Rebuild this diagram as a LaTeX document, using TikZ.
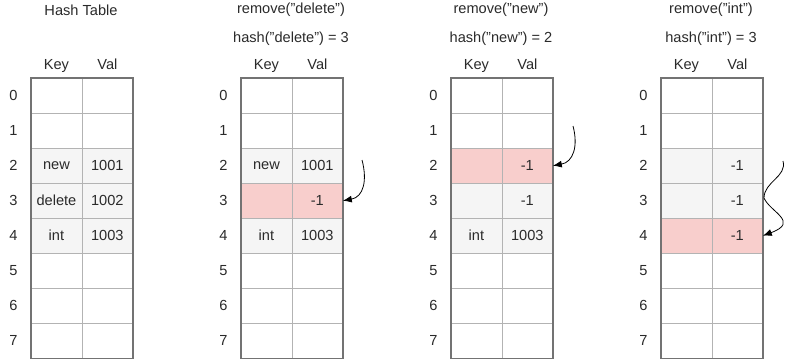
\documentclass[tikz,border=0pt]{standalone}
\usepackage{fontspec}
\setmainfont{Liberation Sans}
\usetikzlibrary{positioning, arrows.meta}
\definecolor{cellgray}{HTML}{F5F5F5}
\definecolor{cellred}{HTML}{F8CECC}
\definecolor{gridline}{HTML}{B3B3B3}
\definecolor{frameline}{HTML}{737373}
\definecolor{textdark}{HTML}{2A2A2A}

\begin{document}
\begin{tikzpicture}[x=1pt, y=-1pt, font=\fontsize{14.6}{17}\selectfont,
  >={Latex[length=9pt, width=7pt]}, every node/.style={text=textdark},
  cell/.style={draw=gridline, minimum width=50.5pt, minimum height=35pt,
               inner sep=0pt, anchor=north west},
  hdr/.style={text height=10pt, text depth=3pt, inner sep=2pt},
  tableframe/.style={draw=frameline, line width=1.5pt},
  arr/.style={->, line width=0.8pt}]
  \useasboundingbox (0,0) rectangle (801,361);
  % titles
  \node (ta-title) at (81,10) {Hash Table};
  \node (tb-title) at (291,10) {remove("delete")};
  \node (tb-hash)  at (291,39) {hash("delete") = 3};
  \node (tc-title) at (501,10) {remove("new")};
  \node (tc-hash)  at (501,39) {hash("new") = 2};
  \node (td-title) at (711,10) {remove("int")};
  \node (td-hash)  at (711,39) {hash("int") = 3};
  % table a: initial contents
  \foreach \r/\k/\v/\c in {0/{}/{}/white, 1/{}/{}/white, 2/new/1001/cellgray,
      3/delete/1002/cellgray, 4/int/1003/cellgray, 5/{}/{}/white,
      6/{}/{}/white, 7/{}/{}/white} {
    \node[cell, fill=\c] (ta-k\r) at (31,78+35*\r) {\k};
    \node[cell, fill=\c] (ta-v\r) at (ta-k\r.north east) {\v};
    \node[left=10pt of ta-k\r] (ta-i\r) {\r};
  }
  % table b: delete removed
  \foreach \r/\k/\v/\c in {0/{}/{}/white, 1/{}/{}/white, 2/new/1001/cellgray,
      3/{}/-1/cellred, 4/int/1003/cellgray, 5/{}/{}/white,
      6/{}/{}/white, 7/{}/{}/white} {
    \node[cell, fill=\c] (tb-k\r) at (241,78+35*\r) {\k};
    \node[cell, fill=\c] (tb-v\r) at (tb-k\r.north east) {\v};
    \node[left=10pt of tb-k\r] (tb-i\r) {\r};
  }
  % table c: new removed
  \foreach \r/\k/\v/\c in {0/{}/{}/white, 1/{}/{}/white, 2/{}/-1/cellred,
      3/{}/-1/cellgray, 4/int/1003/cellgray, 5/{}/{}/white,
      6/{}/{}/white, 7/{}/{}/white} {
    \node[cell, fill=\c] (tc-k\r) at (451,78+35*\r) {\k};
    \node[cell, fill=\c] (tc-v\r) at (tc-k\r.north east) {\v};
    \node[left=10pt of tc-k\r] (tc-i\r) {\r};
  }
  % table d: int removed
  \foreach \r/\k/\v/\c in {0/{}/{}/white, 1/{}/{}/white, 2/{}/-1/cellgray,
      3/{}/-1/cellgray, 4/{}/-1/cellred, 5/{}/{}/white,
      6/{}/{}/white, 7/{}/{}/white} {
    \node[cell, fill=\c] (td-k\r) at (661,78+35*\r) {\k};
    \node[cell, fill=\c] (td-v\r) at (td-k\r.north east) {\v};
    \node[left=10pt of td-k\r] (td-i\r) {\r};
  }
  % headers and frames
  \foreach \t in {ta, tb, tc, td} {
    \node[hdr, above=3pt of \t-k0] (\t-key) {Key};
    \node[hdr, above=3pt of \t-v0] (\t-val) {Val};
    \draw[tableframe] (\t-k0.north west) rectangle (\t-v7.south east);
  }
  % arrows
  \coordinate (tb-from) at (362,160);
  \coordinate (tc-from) at (573,126);
  \coordinate (td-from) at (783,161);
  \coordinate (td-bend) at (764,198);
  \draw[arr] (tb-from) to[out=-75, in=10, looseness=1.2] (tb-v3.east);
  \draw[arr] (tc-from) to[out=-75, in=10, looseness=1.2] (tc-v2.east);
  \draw[arr] (td-from) to[out=-75, in=90] (td-bend)
    .. controls (770,212) and (800,222) .. (td-v4.east);
\end{tikzpicture}
\end{document}
